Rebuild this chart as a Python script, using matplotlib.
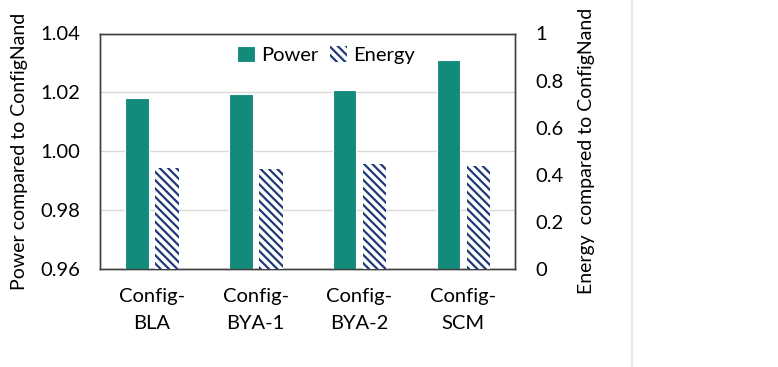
import numpy as np
import matplotlib.pyplot as plt

plt.rcParams['font.family'] = ['Lato', 'DejaVu Sans']
plt.rcParams['hatch.linewidth'] = 1.6

categories = ['Config-\nBLA', 'Config-\nBYA-1', 'Config-\nBYA-2', 'Config-\nSCM']
power = [1.0181, 1.0193, 1.0209, 1.0310]
energy = [0.430, 0.425, 0.445, 0.439]

teal = '#138B7B'
navy = '#1F3A78'

fig = plt.figure(figsize=(7.78, 3.67), dpi=100)
ax = fig.add_axes([100 / 778, 1 - 269 / 367, 415 / 778, 235.5 / 367])
ax2 = ax.twinx()

x = np.arange(len(categories))
w = 0.226
ax.bar(x - 0.142, power, w, color=teal, edgecolor='white', linewidth=0.8,
       label='Power', zorder=3)
ax2.bar(x + 0.147, energy, w, color='white', edgecolor=navy, hatch='\\\\\\\\',
        linewidth=0, label='Energy', zorder=3)

ax.set_xlim(-0.5, 3.5)
ax.set_ylim(0.96, 1.04)
ax.set_yticks([0.96, 0.98, 1.00, 1.02, 1.04])
ax.set_yticklabels(['0.96', '0.98', '1.00', '1.02', '1.04'])
ax2.set_ylim(0, 1)
ax2.set_yticks([0, 0.2, 0.4, 0.6, 0.8, 1])
ax2.set_yticklabels(['0', '0.2', '0.4', '0.6', '0.8', '1'])

fs = 14.5
ax.set_xticks(x)
ax.set_xticklabels(categories, fontsize=fs, linespacing=1.65)
ax.tick_params(axis='y', length=0, labelsize=fs, pad=14)
ax.tick_params(axis='x', length=0, pad=14)
ax2.tick_params(axis='y', length=0, labelsize=fs, pad=15)

ax.grid(axis='y', color='#D9D9D9', linewidth=1, zorder=0)
ax.set_axisbelow(True)
for a in (ax, ax2):
    for s in a.spines.values():
        s.set_color('#404040')
        s.set_linewidth(1)

ax.set_ylabel('Power compared to ConfigNand', fontsize=14, labelpad=9)
ax2.set_ylabel('Energy  compared to ConfigNand', fontsize=14, labelpad=10)

h1, l1 = ax.get_legend_handles_labels()
h2, l2 = ax2.get_legend_handles_labels()
ax2.legend(h1 + h2, l1 + l2, loc='upper center', bbox_to_anchor=(0.545, 1.025),
           ncol=2, frameon=False, fontsize=fs, handlelength=0.85,
           handleheight=0.85, handletextpad=0.3, columnspacing=0.6)

fig.add_artist(plt.Line2D([632 / 778, 632 / 778], [0, 1], color='#E6E6E6',
                          linewidth=1.5, transform=fig.transFigure))

fig.savefig('out.png', dpi=100)
